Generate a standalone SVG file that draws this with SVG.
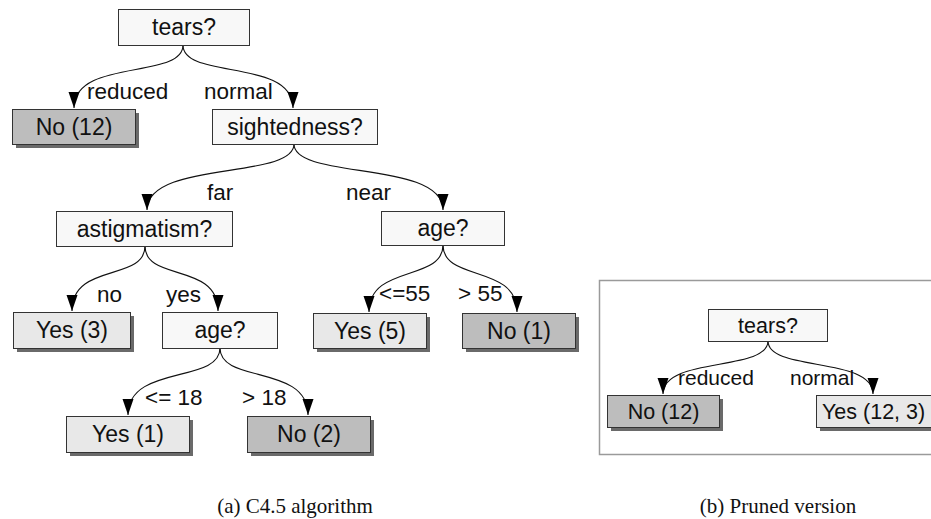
<svg xmlns="http://www.w3.org/2000/svg" width="931" height="519" viewBox="0 0 931 519">
<defs>
<style>
.q{fill:#f8f8f8;stroke:#333;stroke-width:1}
.y{fill:#e8e8e8;stroke:#333;stroke-width:1}
.n{fill:#bdbdbd;stroke:#333;stroke-width:1}
.sh{fill:#6a6a6a}
.t{font-family:"Liberation Sans",Arial,sans-serif;font-size:23px;fill:#111;text-anchor:middle}
.tb{font-family:"Liberation Sans",Arial,sans-serif;font-size:21.5px;fill:#111;text-anchor:middle}
.l{font-family:"Liberation Sans",Arial,sans-serif;font-size:22.5px;fill:#111}
.lb{font-family:"Liberation Sans",Arial,sans-serif;font-size:21px;fill:#111}
.c{fill:none;stroke:#111;stroke-width:1.1}
.cap{font-family:"Liberation Serif","Times New Roman",serif;font-size:21px;fill:#111;text-anchor:middle}
</style>
<marker id="ah" markerUnits="userSpaceOnUse" markerWidth="17" markerHeight="12" refX="16" refY="5.5" orient="auto">
<path d="M0,0 L16,5.5 L0,11 z" fill="#000"/>
</marker>
</defs>
<rect x="0" y="0" width="931" height="519" fill="#fff"/>

<g id="connectors">
<path class="c" marker-end="url(#ah)" d="M183,45 C183,80 74,58 74,108"/>
<path class="c" marker-end="url(#ah)" d="M183,45 C183,80 293,58 293,108"/>
<path class="c" marker-end="url(#ah)" d="M294,144 C294,180 147,160 147,210"/>
<path class="c" marker-end="url(#ah)" d="M294,144 C294,180 443,160 443,210"/>
<path class="c" marker-end="url(#ah)" d="M145,246 C145,282 72,262 72,311"/>
<path class="c" marker-end="url(#ah)" d="M145,246 C145,282 218,262 218,311"/>
<path class="c" marker-end="url(#ah)" d="M220,348 C220,384 128,364 128,415"/>
<path class="c" marker-end="url(#ah)" d="M220,348 C220,384 308,364 308,415"/>
<path class="c" marker-end="url(#ah)" d="M443,245 C443,282 369,264 369,312"/>
<path class="c" marker-end="url(#ah)" d="M443,245 C443,282 517,264 517,312"/>
<path class="c" marker-end="url(#ah)" d="M768,341 C768,372 663,356 663,394"/>
<path class="c" marker-end="url(#ah)" d="M768,341 C768,372 873,356 873,394"/>
</g>

<g id="edge-labels">
<text class="l" x="87" y="99">reduced</text>
<text class="l" x="204" y="99">normal</text>
<text class="l" x="207" y="200">far</text>
<text class="l" x="346" y="200">near</text>
<text class="l" x="97" y="302">no</text>
<text class="l" x="166" y="302">yes</text>
<text class="l" x="145" y="405">&lt;= 18</text>
<text class="l" x="242" y="405">&gt; 18</text>
<text class="l" x="379" y="301">&lt;=55</text>
<text class="l" x="458" y="301">&gt; 55</text>
<text class="lb" x="678" y="385">reduced</text>
<text class="lb" x="790" y="385">normal</text>
</g>

<g id="tears">
<rect class="q" x="118.5" y="9.5" width="131" height="36"/>
<text class="t" x="184" y="35">tears?</text>
</g>
<g id="no12">
<rect class="sh" x="16" y="113" width="123" height="35"/>
<rect class="n" x="12.5" y="109.5" width="123" height="35"/>
<text class="t" x="74" y="135">No (12)</text>
</g>
<g id="sightedness">
<rect class="q" x="212.5" y="109.5" width="165" height="35"/>
<text class="t" x="295" y="135">sightedness?</text>
</g>
<g id="astigmatism">
<rect class="q" x="56.5" y="211.5" width="176" height="35"/>
<text class="t" x="144.5" y="237">astigmatism?</text>
</g>
<g id="age-near">
<rect class="q" x="381.5" y="211.5" width="123" height="34"/>
<text class="t" x="443" y="236">age?</text>
</g>
<g id="yes3">
<rect class="sh" x="17" y="316" width="117" height="36"/>
<rect class="y" x="13.5" y="312.5" width="117" height="36"/>
<text class="t" x="72" y="338">Yes (3)</text>
</g>
<g id="age-yes">
<rect class="q" x="162.5" y="312.5" width="115" height="36"/>
<text class="t" x="220" y="338">age?</text>
</g>
<g id="yes5">
<rect class="sh" x="317" y="317" width="113" height="35"/>
<rect class="y" x="313.5" y="313.5" width="113" height="35"/>
<text class="t" x="370" y="339">Yes (5)</text>
</g>
<g id="no1">
<rect class="sh" x="466" y="317" width="113" height="35"/>
<rect class="n" x="462.5" y="313.5" width="113" height="35"/>
<text class="t" x="519" y="339">No (1)</text>
</g>
<g id="yes1">
<rect class="sh" x="70" y="420" width="123" height="36"/>
<rect class="y" x="66.5" y="416.5" width="123" height="36"/>
<text class="t" x="128" y="442">Yes (1)</text>
</g>
<g id="no2">
<rect class="sh" x="251" y="420" width="123" height="36"/>
<rect class="n" x="247.5" y="416.5" width="123" height="36"/>
<text class="t" x="309" y="442">No (2)</text>
</g>

<g id="pruned-frame">
<rect x="599.5" y="280.5" width="340" height="174" fill="none" stroke="#9a9a9a" stroke-width="1.5"/>
</g>
<g id="tears-b">
<rect class="q" x="708.5" y="309.5" width="119" height="32"/>
<text class="tb" x="768" y="333">tears?</text>
</g>
<g id="no12-b">
<rect class="sh" x="611" y="399" width="112" height="32"/>
<rect class="n" x="607.5" y="395.5" width="112" height="32"/>
<text class="tb" x="663.5" y="419">No (12)</text>
</g>
<g id="yes123-b">
<rect class="sh" x="820" y="399" width="125" height="32"/>
<rect class="y" x="816.5" y="395.5" width="125" height="32"/>
<text class="tb" x="822" y="419" style="text-anchor:start">Yes (12, 3)</text>
</g>

<g id="captions">
<text class="cap" x="295" y="513">(a) C4.5 algorithm</text>
<text class="cap" x="778" y="513">(b) Pruned version</text>
</g>
</svg>
